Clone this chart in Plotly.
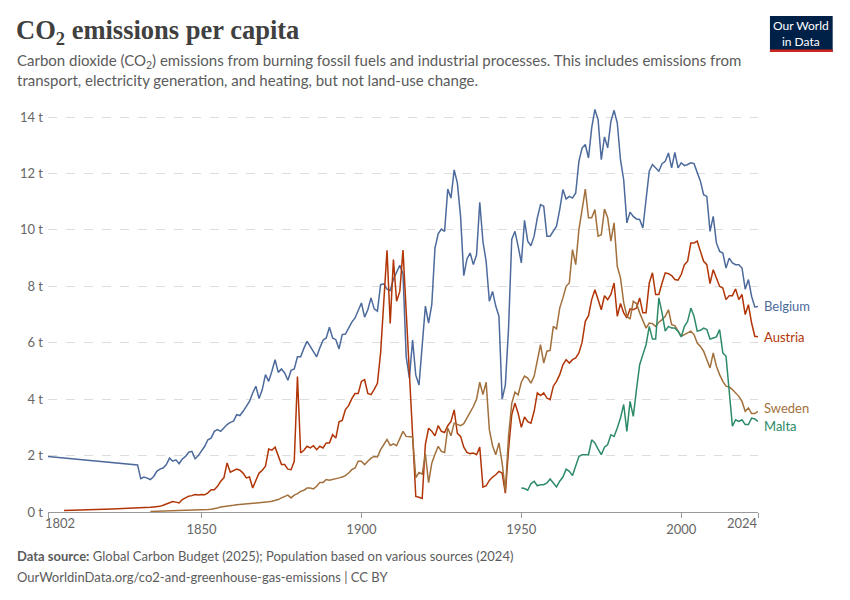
import plotly.graph_objects as go

# ---- data (tonnes CO2 per person) ----
belgium_years = [1802] + list(range(1830, 2025))
belgium = [1.97,
    1.67, 1.18, 1.24, 1.20, 1.15, 1.25, 1.44, 1.52, 1.56, 1.68,
    1.91, 1.80, 1.85, 1.71, 1.88, 1.97, 2.12, 2.15, 1.89, 2.00,
    2.15, 2.33, 2.56, 2.62, 2.86, 2.92, 2.86, 2.98, 3.10, 3.18,
    3.22, 3.45, 3.42, 3.57, 3.75, 3.92, 4.22, 4.46, 4.02, 4.34,
    4.87, 4.63, 4.99, 5.40, 4.95, 5.07, 4.93, 4.67, 5.02, 5.07,
    5.50, 5.50, 5.80, 6.05, 5.87, 5.70, 5.50, 5.82, 6.09, 6.17,
    6.55, 6.17, 6.11, 5.78, 6.29, 6.31, 6.52, 6.73, 6.88, 7.12,
    7.41, 6.91, 7.17, 7.59, 7.20, 7.12, 8.06, 8.09, 7.90, 7.85,
    8.25, 8.50, 8.75, 8.45, 5.50, 4.75, 6.10, 4.85, 4.50, 5.90,
    7.30, 6.70, 7.35, 9.36, 9.86, 10.03, 9.95, 11.45, 11.13, 12.13,
    11.66, 10.48, 8.38, 8.97, 9.18, 8.77, 9.12, 10.98, 9.59, 8.88,
    7.47, 7.82, 7.30, 6.94, 4.00, 4.50, 6.50, 9.66, 9.95, 9.42,
    8.83, 10.34, 9.60, 9.44, 9.78, 10.43, 10.90, 10.84, 9.78, 9.78,
    9.95, 10.13, 10.72, 11.43, 11.10, 11.19, 11.13, 11.31, 12.43, 12.90,
    13.03, 12.55, 13.62, 14.27, 13.91, 12.49, 13.30, 12.91, 13.85, 14.24,
    13.79, 12.49, 11.78, 10.25, 10.63, 10.48, 10.39, 10.37, 10.07, 11.08,
    12.08, 12.32, 12.20, 12.08, 12.35, 12.43, 12.73, 12.20, 12.75, 12.20,
    12.38, 12.28, 12.32, 12.38, 12.35, 12.02, 11.73, 11.25, 11.19, 9.95,
    10.48, 9.54, 9.24, 9.18, 8.65, 9.00, 8.83, 8.77, 8.77, 8.65,
    7.90, 8.24, 7.65, 7.27, 7.29]

austria_years = [1807, 1812, 1817, 1822, 1827] + list(range(1830, 2025))
austria = [0.05, 0.06, 0.09, 0.11, 0.13,
    0.14, 0.14, 0.14, 0.14, 0.17, 0.18, 0.19, 0.20, 0.24, 0.29,
    0.33, 0.37, 0.35, 0.32, 0.44, 0.50, 0.56, 0.58, 0.62, 0.60,
    0.62, 0.61, 0.68, 0.79, 0.79, 0.91, 1.09, 1.21, 1.74, 1.41,
    1.48, 1.52, 1.48, 1.38, 1.21, 1.24, 0.85, 1.15, 1.38, 1.48,
    1.62, 2.23, 2.19, 2.30, 1.97, 1.68, 1.68, 1.52, 1.50, 1.80,
    4.80, 2.09, 2.19, 2.33, 2.27, 2.35, 2.21, 2.33, 2.27, 2.45,
    2.45, 2.74, 2.62, 3.20, 3.25, 3.63, 3.77, 4.02, 4.20, 4.20,
    4.63, 4.69, 4.20, 4.16, 4.35, 4.56, 5.64, 7.45, 9.28, 6.68,
    8.95, 7.47, 7.82, 9.29, 7.10, 4.90, 2.70, 0.55, 0.52, 0.48,
    2.40, 2.97, 2.86, 2.70, 3.06, 2.86, 2.82, 3.06, 3.21, 3.62,
    2.79, 2.68, 2.30, 2.11, 2.07, 2.09, 2.03, 2.30, 0.88, 0.93,
    1.12, 1.24, 1.32, 1.44, 1.38, 0.67, 2.21, 3.45, 3.86, 3.50,
    3.00, 3.37, 3.20, 3.15, 3.57, 4.22, 4.13, 4.22, 4.04, 3.98,
    4.46, 4.63, 4.87, 5.22, 5.40, 5.28, 5.40, 5.46, 5.64, 6.02,
    6.76, 6.96, 7.53, 7.88, 7.53, 7.17, 7.67, 7.53, 7.71, 8.12,
    6.94, 7.39, 7.06, 6.88, 7.20, 7.17, 7.23, 7.59, 7.06, 7.06,
    8.12, 8.48, 7.71, 7.71, 8.12, 8.48, 8.45, 8.38, 8.24, 8.22,
    8.42, 8.77, 8.89, 9.54, 9.54, 9.60, 9.24, 8.89, 8.77, 8.10,
    8.59, 8.30, 8.00, 7.94, 7.53, 7.67, 7.67, 7.91, 7.53, 7.71,
    7.00, 7.35, 6.70, 6.23, 6.21]

sweden_years = [1834, 1838, 1842, 1846] + list(range(1850, 2025))
sweden = [0.02, 0.03, 0.04, 0.05,
    0.07, 0.08, 0.09, 0.10, 0.11, 0.14, 0.18, 0.19, 0.20, 0.22,
    0.24, 0.26, 0.27, 0.28, 0.29, 0.30, 0.31, 0.31, 0.32, 0.32,
    0.34, 0.36, 0.38, 0.41, 0.44, 0.50, 0.56, 0.60, 0.50, 0.60,
    0.65, 0.73, 0.77, 0.85, 0.85, 0.82, 0.91, 1.05, 1.05, 1.15,
    1.13, 1.15, 1.18, 1.21, 1.24, 1.29, 1.38, 1.50, 1.56, 1.80,
    1.80, 1.68, 1.80, 1.91, 1.97, 1.95, 2.21, 2.39, 2.57, 2.36,
    2.42, 2.35, 2.58, 2.86, 2.68, 2.68, 2.66, 1.22, 1.40, 1.34,
    2.05, 1.04, 1.73, 2.05, 2.33, 2.15, 2.11, 2.98, 2.70, 3.15,
    3.10, 3.06, 3.13, 3.33, 3.57, 3.74, 4.00, 4.60, 4.16, 4.60,
    2.92, 2.35, 2.03, 2.45, 1.73, 0.75, 2.68, 3.85, 4.25, 4.15,
    4.60, 4.82, 4.75, 4.57, 4.81, 5.40, 5.93, 5.28, 5.70, 5.73,
    6.58, 6.49, 7.23, 7.59, 8.00, 8.12, 9.30, 8.77, 10.01, 10.72,
    11.45, 10.43, 10.43, 10.72, 9.78, 9.83, 10.74, 10.43, 9.60, 10.25,
    8.71, 8.30, 7.43, 6.94, 6.84, 7.47, 7.39, 7.06, 6.76, 6.52,
    6.70, 6.68, 6.58, 6.73, 6.82, 6.94, 7.17, 6.64, 6.61, 6.41,
    6.23, 6.29, 6.35, 6.41, 6.29, 5.99, 5.87, 5.70, 5.40, 5.11,
    5.64, 5.17, 4.87, 4.63, 4.46, 4.43, 4.34, 4.22, 4.10, 3.92,
    3.57, 3.69, 3.49, 3.49, 3.57]

malta_years = list(range(1950, 2025))
malta = [
    0.85, 0.83, 0.77, 1.00, 1.09, 0.93, 0.97, 0.97, 1.03, 1.17,
    1.03, 0.89, 1.09, 1.24, 1.52, 1.44, 1.29, 1.64, 1.97, 2.03,
    2.03, 2.03, 2.56, 2.45, 2.23, 2.03, 2.30, 2.39, 2.74, 2.68,
    2.98, 3.33, 3.81, 2.86, 3.92, 3.39, 4.34, 5.22, 5.58, 5.93,
    6.58, 6.13, 6.13, 7.59, 7.06, 6.41, 6.58, 6.52, 6.52, 6.41,
    6.21, 6.58, 6.76, 7.23, 6.94, 6.41, 6.44, 6.52, 6.47, 6.13,
    6.17, 6.21, 6.47, 5.64, 5.52, 4.22, 3.04, 3.27, 3.21, 3.27,
    3.10, 3.10, 3.33, 3.30, 3.21]

x_ticks = [1802, 1850, 1900, 1950, 2000, 2024]
y_ticks = [0, 2, 4, 6, 8, 10, 12, 14]

series = [
    ("Belgium", belgium_years, belgium, "#4C6A9C"),
    ("Austria", austria_years, austria, "#B13507"),
    ("Sweden", sweden_years, sweden, "#A2703C"),
    ("Malta", malta_years, malta, "#2C8A67"),
]
# small vertical nudges so the end labels don't collide
label_nudge = {"Belgium": 0.0, "Austria": 0.0, "Sweden": 0.13, "Malta": -0.15}

# the page body adds an 8px margin, so the figure is drawn 8px smaller and
# every page coordinate below is taken relative to that offset
OFF = 8
W, H = 850 - 2 * OFF, 600 - 2 * OFF
ML, MT = 45 - OFF, 103 - OFF
MR, MB = W - (758 - OFF), H - (512 - OFF)
PW, PH = W - ML - MR, H - MT - MB


def px(x):
    # page x (as in the reference) -> paper coords
    return (x - OFF - ML) / PW


def py(y):
    # page y (as in the reference) -> paper coords
    return (H - MB - (y - OFF)) / PH


fig = go.Figure()
for name, yrs, vals, col in series:
    fig.add_trace(go.Scatter(x=yrs, y=vals, mode="lines", name=name,
                             line=dict(color=col, width=1.5), hoverinfo="skip"))

annotations = []
for name, yrs, vals, col in series:
    annotations.append(dict(x=yrs[-1], y=vals[-1] + label_nudge[name], xref="x", yref="y",
                            text=name, showarrow=False, xanchor="left", xshift=4,
                            font=dict(family="Lato", size=13, color=col)))

# first and last year labels are aligned to the plot edges
annotations.append(dict(x=x_ticks[0], y=py(523), xref="x", yref="paper", text=str(x_ticks[0]),
                        showarrow=False, xanchor="left", yanchor="middle", xshift=-5,
                        font=dict(family="Lato", size=13, color="#666")))
annotations.append(dict(x=x_ticks[-1], y=py(523), xref="x", yref="paper", text=str(x_ticks[-1]),
                        showarrow=False, xanchor="right", yanchor="middle", xshift=2,
                        font=dict(family="Lato", size=13, color="#666")))

annotations += [
    dict(x=px(11), y=py(32), xref="paper", yref="paper", xanchor="left", yanchor="middle",
         showarrow=False, text="<b>CO<sub>2</sub> emissions per capita</b>",
         font=dict(family="Liberation Serif", size=26.5, color="#404040")),
    dict(x=px(12), y=py(61), xref="paper", yref="paper", xanchor="left", yanchor="middle",
         showarrow=False, align="left",
         text="Carbon dioxide (CO<sub>2</sub>) emissions from burning fossil fuels and industrial processes. This includes emissions from",
         font=dict(family="Lato", size=15, color="#5b5b5b")),
    dict(x=px(12), y=py(80), xref="paper", yref="paper", xanchor="left", yanchor="middle",
         showarrow=False, align="left",
         text="transport, electricity generation, and heating, but not land-use change.",
         font=dict(family="Lato", size=15, color="#5b5b5b")),
    dict(x=px(12), y=py(556), xref="paper", yref="paper", xanchor="left", yanchor="middle",
         showarrow=False,
         text="<b>Data source:</b> Global Carbon Budget (2025); Population based on various sources (2024)",
         font=dict(family="Lato", size=13, color="#5b5b5b")),
    dict(x=px(12), y=py(577), xref="paper", yref="paper", xanchor="left", yanchor="middle",
         showarrow=False,
         text="OurWorldinData.org/co2-and-greenhouse-gas-emissions | CC BY",
         font=dict(family="Lato", size=13, color="#5b5b5b")),
    dict(x=px(801.5), y=py(33), xref="paper", yref="paper", xanchor="center", yanchor="middle",
         showarrow=False, text="Our World<br>in Data",
         font=dict(family="Lato", size=12, color="white")),
]

shapes = [
    dict(type="rect", xref="paper", yref="paper", x0=px(770), x1=px(833), y0=py(52), y1=py(16),
         fillcolor="#002147", line=dict(width=0), layer="above"),
    dict(type="rect", xref="paper", yref="paper", x0=px(770), x1=px(833), y0=py(52), y1=py(49.5),
         fillcolor="#CE261E", line=dict(width=0), layer="above"),
]

fig.update_layout(
    width=W, height=H,
    margin=dict(l=ML, r=MR, t=MT, b=MB),
    paper_bgcolor="white", plot_bgcolor="white",
    showlegend=False,
    xaxis=dict(range=[1802, 2024], tickvals=x_ticks,
               ticktext=[""] + [str(t) for t in x_ticks[1:-1]] + [""],
               showgrid=False, zeroline=False, showline=True, linecolor="#999", linewidth=1,
               ticks="outside", ticklen=5, tickcolor="#999",
               tickfont=dict(family="Lato", size=13, color="#666")),
    yaxis=dict(range=[0, 14.5], tickvals=y_ticks, ticktext=[f"{v} t" for v in y_ticks],
               showgrid=True, gridcolor="#dddddd", griddash="dash", gridwidth=1,
               zeroline=False, showline=False, ticks="", ticklabelstandoff=4,
               tickfont=dict(family="Lato", size=13, color="#666")),
    annotations=annotations,
    shapes=shapes,
)

fig.write_html("out.html")
